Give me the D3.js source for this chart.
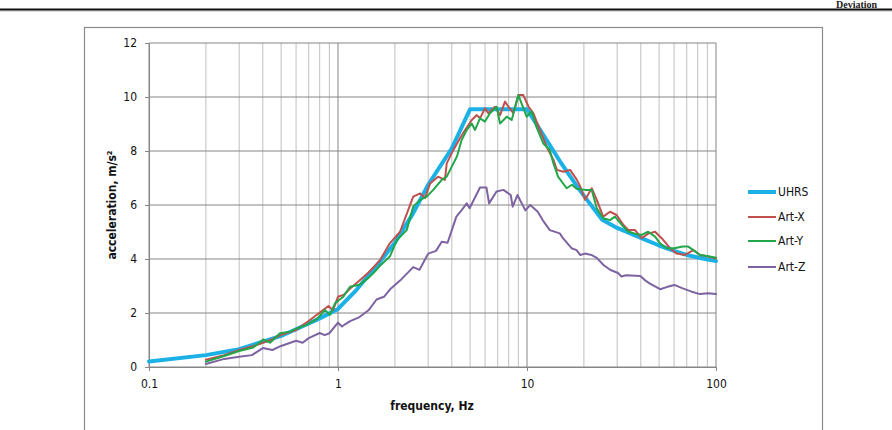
<!DOCTYPE html>
<html><head><meta charset="utf-8">
<script src="https://cdn.jsdelivr.net/npm/d3@7/dist/d3.min.js"></script>
<style>
html,body{margin:0;padding:0;background:#fff;}
svg{display:block;}
text{font-family:"DejaVu Sans Condensed","DejaVu Sans",sans-serif;}
</style></head>
<body>
<svg id="chart" width="892" height="430"></svg>
<script>
// ---- data ----
const xTickValues = [0.1, 1, 10, 100];
const xTickLabels = ["0.1", "1", "10", "100"];
const yTickValues = [0, 2, 4, 6, 8, 10, 12];
const seriesNames = ["UHRS", "Art-X", "Art-Y", "Art-Z"];

const uhrsFreq = [0.1,0.2,0.3,0.4,0.5,0.6,0.8,1,1.25,1.667,2,2.5,3,4,5,10,15,19,25,30,40,50,60,70,85,100];
const uhrsAcc  = [0.2,0.44,0.66,0.94,1.15,1.4,1.8,2.15,2.85,3.9,4.6,5.7,6.75,8.1,9.55,9.55,7.6,6.55,5.45,5.15,4.78,4.5,4.3,4.15,4.02,3.92];

const artXFreq = [0.2,0.25,0.3,0.37,0.44,0.5,0.6,0.71,0.89,0.94,1.0,1.07,1.16,1.3,1.45,1.67,1.88,2.13,2.5,2.72,2.89,3.07,3.38,3.68,3.76,4.08,4.42,4.7,5.1,5.42,5.64,5.99,6.24,6.77,7.2,7.65,7.97,8.47,9.0,9.56,10.2,10.8,11.7,12.7,13.8,14.4,15.6,16.9,18.3,19.1,20.3,22.0,23.4,25.3,27.5,29.8,32.4,34.4,37.3,40.4,43.8,47.6,51.6,57.1,62.0,68.6,75.9,82.3,91.0,100];
const artXAcc  = [0.27,0.44,0.63,0.81,1.0,1.19,1.37,1.74,2.26,2.1,2.6,2.67,2.91,3.2,3.5,3.96,4.58,5.01,6.31,6.43,6.26,6.8,7.05,6.93,7.54,8.04,8.47,8.78,9.15,9.33,9.21,9.58,9.4,9.64,9.33,9.83,9.64,9.4,10.07,10.07,9.64,9.4,8.78,8.16,7.67,7.3,7.23,7.3,6.95,6.7,6.19,6.62,6.19,5.57,5.75,5.63,5.26,5.07,5.07,4.77,4.94,5.01,4.77,4.4,4.2,4.15,4.33,4.15,4.09,4.02];

const artYFreq = [0.2,0.25,0.3,0.356,0.402,0.437,0.493,0.558,0.604,0.683,0.771,0.853,0.907,0.964,1.067,1.157,1.3,1.45,1.55,1.667,1.88,2.05,2.31,2.5,2.72,2.95,3.19,3.54,3.76,4.08,4.26,4.51,4.8,5.1,5.31,5.64,5.99,6.37,6.91,7.2,7.81,8.3,9.0,9.96,10.6,11.2,12.2,13.2,13.8,14.6,16.2,17.3,18.3,20.3,22.0,23.4,25.3,27.5,29.2,32.4,34.4,37.3,40.4,43.8,47.6,50.6,54.8,60.2,66.7,71.3,75.9,82.3,91.0,100];
const artYAcc  = [0.2,0.41,0.59,0.72,1.02,0.9,1.25,1.31,1.43,1.56,1.77,2.11,1.93,2.36,2.6,2.97,3.05,3.3,3.5,3.75,4.09,4.7,5.07,5.94,6.19,6.31,6.56,6.93,7.05,7.54,7.8,8.41,8.78,9.02,8.78,9.21,9.09,9.4,9.64,9.02,9.27,9.15,10.07,9.27,9.46,8.9,8.28,8.04,7.54,7.05,6.62,6.75,6.6,6.56,6.56,5.88,5.51,5.44,5.57,5.19,5.01,4.94,4.89,5.01,4.83,4.58,4.4,4.4,4.46,4.46,4.33,4.15,4.1,4.05];

const artZFreq = [0.2,0.25,0.3,0.35,0.4,0.45,0.5,0.6,0.65,0.7,0.8,0.85,0.9,1.0,1.05,1.1,1.16,1.3,1.45,1.6,1.75,1.9,2.13,2.5,2.7,3.0,3.3,3.54,3.8,4.23,4.5,4.8,4.97,5.64,6.1,6.3,6.9,7.5,8.2,8.4,8.9,9.8,10.4,11.4,12.1,13.2,14.9,15.5,17.2,18.3,19.1,20.3,21.9,23.4,25.4,27.5,30.3,31.6,33.5,39.8,42,44.5,50.6,54.8,60.2,66.7,74.4,82.3,91,100];
const artZAcc  = [0.11,0.3,0.38,0.44,0.7,0.63,0.78,0.97,0.9,1.07,1.26,1.18,1.25,1.64,1.5,1.6,1.7,1.85,2.1,2.5,2.6,2.9,3.2,3.7,3.6,4.2,4.3,4.64,4.6,5.57,5.8,6.06,5.88,6.65,6.65,6.06,6.5,6.56,6.37,5.94,6.37,5.8,6.0,5.75,5.44,5.07,4.95,4.77,4.4,4.33,4.15,4.2,4.15,4.04,3.78,3.6,3.48,3.35,3.4,3.37,3.22,3.1,2.88,2.96,3.04,2.91,2.79,2.7,2.73,2.7];

// ---- layout ----
const svg = d3.select("#chart");
const x = d3.scaleLog().domain([0.1, 100]).range([149, 716]);
const y = d3.scaleLinear().domain([0, 12]).range([367, 43]);

// page decoration
svg.append("text").attr("x", 836).attr("y", 7.5)
  .style("font-family", "'Liberation Serif','DejaVu Serif',serif")
  .style("font-weight", "bold").style("font-size", "10px").attr("fill", "#222").text("Deviation");
svg.append("line").attr("x1", 0).attr("x2", 892).attr("y1", 11).attr("y2", 11)
  .attr("stroke", "#bbb").attr("stroke-width", 1);
svg.append("line").attr("x1", 0).attr("x2", 892).attr("y1", 9.5).attr("y2", 9.5)
  .attr("stroke", "#111").attr("stroke-width", 2);

// chart border
svg.append("rect").attr("x", 84.5).attr("y", 27.5).attr("width", 738).attr("height", 440)
  .attr("fill", "none").attr("stroke", "#8a8a8a").attr("stroke-width", 1.2);

// minor vertical grid
const minor = [];
[0.1, 1, 10].forEach(d => { for (let k = 2; k <= 9; k++) minor.push(+(d * k).toPrecision(3)); });
svg.append("g").selectAll("line").data(minor).join("line")
  .attr("x1", d => x(d)).attr("x2", d => x(d)).attr("y1", y(12)).attr("y2", y(0))
  .attr("stroke", "#c0c0c0").attr("stroke-width", 1);
// major vertical grid
svg.append("g").selectAll("line").data(xTickValues).join("line")
  .attr("x1", d => x(d)).attr("x2", d => x(d)).attr("y1", y(12)).attr("y2", y(0))
  .attr("stroke", "#868686").attr("stroke-width", 1);
// horizontal grid
svg.append("g").selectAll("line").data(yTickValues).join("line")
  .attr("x1", x(0.1)).attr("x2", x(100)).attr("y1", d => y(d)).attr("y2", d => y(d))
  .attr("stroke", "#868686").attr("stroke-width", 1);

// axes
const xAxis = svg.append("g").attr("transform", `translate(0,${y(0)})`)
  .call(d3.axisBottom(x).tickValues(xTickValues).tickFormat((d, i) => xTickLabels[i]).tickSize(4).tickPadding(8));
const yAxis = svg.append("g").attr("transform", `translate(${x(0.1)},0)`)
  .call(d3.axisLeft(y).tickValues(yTickValues).tickFormat(d3.format("d")).tickSize(4).tickPadding(8));
[xAxis, yAxis].forEach(g => {
  g.select(".domain").attr("stroke", "#868686");
  g.selectAll(".tick line").attr("stroke", "#868686");
  g.selectAll(".tick text").attr("fill", "#111").style("font-size", "12px")
    .style("font-family", "'DejaVu Sans Condensed','DejaVu Sans',sans-serif");
});

// axis titles
svg.append("text").attr("x", 432).attr("y", 410).attr("text-anchor", "middle")
  .style("font-weight", "bold").style("font-size", "12px").attr("fill", "#111").text("frequency, Hz");
svg.append("text").attr("transform", "translate(116,205) rotate(-90)").attr("text-anchor", "middle")
  .style("font-weight", "bold").style("font-size", "12px").attr("fill", "#111")
  .text("acceleration, m/s\u00B2");

// series
const colors = ["#1cb1e6", "#c0504d", "#22a64a", "#7d63a1"];
const widths = [4, 2, 2, 2];
const series = [
  d3.zip(uhrsFreq, uhrsAcc),
  d3.zip(artXFreq, artXAcc),
  d3.zip(artYFreq, artYAcc),
  d3.zip(artZFreq, artZAcc)
];
const line = d3.line().x(d => x(d[0])).y(d => y(d[1]));
const drawOrder = [3, 0, 1, 2];
drawOrder.forEach(i => {
  svg.append("path").datum(series[i]).attr("d", line)
    .attr("fill", "none").attr("stroke", colors[i]).attr("stroke-width", widths[i])
    .attr("stroke-linejoin", "round").attr("stroke-linecap", "round");
});

// legend
const legY = [192, 217, 241, 267];
const leg = svg.append("g");
seriesNames.forEach((n, i) => {
  leg.append("line").attr("x1", 748).attr("x2", 776).attr("y1", legY[i]).attr("y2", legY[i])
    .attr("stroke", colors[i]).attr("stroke-width", widths[i]);
  leg.append("text").attr("x", 778).attr("y", legY[i]).attr("dy", "0.35em")
    .style("font-size", "12px").attr("fill", "#111").text(n);
});
</script>
</body></html>
